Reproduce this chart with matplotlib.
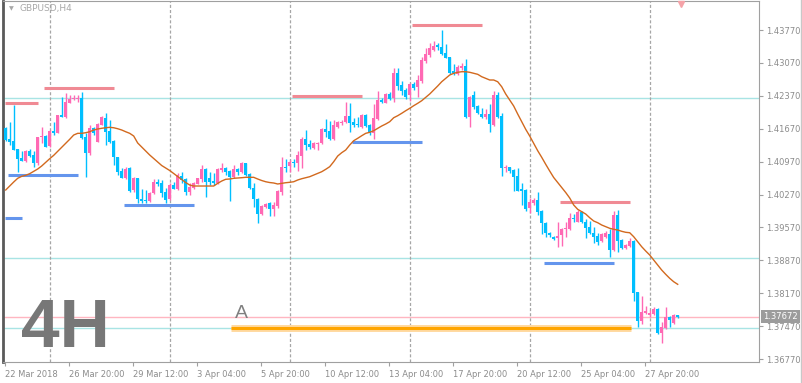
import numpy as np
import matplotlib.pyplot as plt
from matplotlib.lines import Line2D

plt.rcParams['lines.scale_dashes'] = False

# GBPUSD H4 candles, 22 Mar 2018 04:00 onwards
opens = [1.41680, 1.41446, 1.41411, 1.41240, 1.41056, 1.40992, 1.41198, 1.41113, 1.40935, 1.41489,
         1.41517, 1.41304, 1.41623, 1.41588, 1.41964, 1.41928, 1.42226, 1.42297, 1.42297, 1.42318,
         1.41489, 1.41162, 1.41680, 1.41396, 1.41751, 1.41893, 1.41623, 1.41411, 1.41077, 1.40780,
         1.40616, 1.40829, 1.40368, 1.40616, 1.40169, 1.40155, 1.40141, 1.40297, 1.40545, 1.40509,
         1.40318, 1.40169, 1.40467, 1.40396, 1.40665, 1.40594, 1.40332, 1.40403, 1.40495, 1.40594,
         1.40807, 1.40630, 1.40559, 1.40509, 1.40800, 1.40828, 1.40772, 1.40651, 1.40814, 1.40757,
         1.40935, 1.40701, 1.40403, 1.40169, 1.39857, 1.40013, 1.40084, 1.39963, 1.40035, 1.40333,
         1.40864, 1.40886, 1.40971, 1.40949, 1.41098, 1.41453, 1.41347, 1.41254, 1.41347, 1.41361,
         1.41666, 1.41623, 1.41453, 1.41715, 1.41800, 1.41807, 1.41942, 1.41807, 1.41772, 1.41701,
         1.41963, 1.41751, 1.41573, 1.41878, 1.42282, 1.42226, 1.42410, 1.42318, 1.42864, 1.42601,
         1.42495, 1.42389, 1.42616, 1.42566, 1.42687, 1.43119, 1.43240, 1.43346, 1.43452, 1.43403,
         1.43289, 1.43190, 1.42899, 1.42828, 1.42970, 1.43006, 1.41928, 1.42389, 1.42155, 1.41985,
         1.41928, 1.41978, 1.41751, 1.42389, 1.41942, 1.40829, 1.40864, 1.40793, 1.40666, 1.40382,
         1.40368, 1.39978, 1.40084, 1.40155, 1.39929, 1.39658, 1.39459, 1.39374, 1.39339, 1.39410,
         1.39530, 1.39537, 1.39779, 1.39693, 1.39899, 1.39693, 1.39573, 1.39459, 1.39389, 1.39282,
         1.39374, 1.39424, 1.39091, 1.39835, 1.39303, 1.39126, 1.39183, 1.39289, 1.38197, 1.37588,
         1.37758, 1.37708, 1.37730, 1.37836, 1.37332, 1.37439, 1.37673, 1.37545, 1.37701]
highs = [1.41715, 1.41822, 1.42176, 1.41240, 1.41205, 1.41219, 1.41233, 1.41205, 1.41503, 1.41715,
         1.41538, 1.41644, 1.41822, 1.41964, 1.42353, 1.42424, 1.42389, 1.42389, 1.42389, 1.42446,
         1.41574, 1.41751, 1.41715, 1.41786, 1.41942, 1.41999, 1.41857, 1.41432, 1.41077, 1.40829,
         1.40850, 1.40850, 1.40638, 1.40631, 1.40382, 1.40367, 1.40332, 1.40594, 1.40594, 1.40580,
         1.40403, 1.40509, 1.40545, 1.40722, 1.40757, 1.40616, 1.40509, 1.40545, 1.40630, 1.40899,
         1.40828, 1.40757, 1.40722, 1.40828, 1.40949, 1.40864, 1.40793, 1.40899, 1.40835, 1.40970,
         1.40949, 1.40722, 1.40509, 1.40190, 1.40048, 1.40084, 1.40119, 1.40119, 1.40368, 1.41077,
         1.41020, 1.41006, 1.41020, 1.41205, 1.41488, 1.41644, 1.41432, 1.41396, 1.41396, 1.41680,
         1.41871, 1.41836, 1.41857, 1.41836, 1.41857, 1.42233, 1.42211, 1.41892, 1.41928, 1.41978,
         1.41978, 1.41765, 1.42190, 1.42474, 1.42318, 1.42424, 1.42460, 1.42970, 1.42970, 1.42687,
         1.42531, 1.42651, 1.42672, 1.42814, 1.43204, 1.43381, 1.43488, 1.43544, 1.43488, 1.43771,
         1.43474, 1.43204, 1.43041, 1.43027, 1.43062, 1.43147, 1.42367, 1.42474, 1.42176, 1.42105,
         1.42084, 1.42197, 1.42474, 1.42460, 1.41999, 1.40900, 1.40864, 1.40808, 1.40843, 1.40510,
         1.40382, 1.40191, 1.40205, 1.40333, 1.39943, 1.39679, 1.39481, 1.39396, 1.39679, 1.39566,
         1.39679, 1.39885, 1.39849, 1.39942, 1.39920, 1.39743, 1.39715, 1.39587, 1.39445, 1.39445,
         1.39495, 1.39530, 1.39927, 1.39942, 1.39318, 1.39211, 1.39339, 1.39303, 1.38205, 1.38112,
         1.37900, 1.37815, 1.37871, 1.37850, 1.37552, 1.37871, 1.37694, 1.37722, 1.37701]
lows = [1.41418, 1.41325, 1.41219, 1.40758, 1.40992, 1.40971, 1.41077, 1.40865, 1.40900, 1.41361,
        1.41290, 1.41290, 1.41538, 1.41574, 1.41928, 1.41893, 1.42212, 1.42283, 1.42247, 1.41446,
        1.40652, 1.41113, 1.41538, 1.41396, 1.41751, 1.41325, 1.41361, 1.40900, 1.40687, 1.40616,
        1.40595, 1.40333, 1.40333, 1.40099, 1.40098, 1.40098, 1.40119, 1.40275, 1.40453, 1.40226,
        1.40084, 1.40155, 1.40382, 1.40367, 1.40509, 1.40261, 1.40261, 1.40382, 1.40488, 1.40545,
        1.40212, 1.40474, 1.40474, 1.40488, 1.40757, 1.40687, 1.40141, 1.40630, 1.40687, 1.40736,
        1.40672, 1.40382, 1.40013, 1.39658, 1.39836, 1.39978, 1.39814, 1.39814, 1.39992, 1.40262,
        1.40758, 1.40758, 1.40864, 1.40779, 1.40843, 1.41219, 1.41247, 1.41233, 1.41219, 1.41347,
        1.41488, 1.41432, 1.41432, 1.41694, 1.41751, 1.41786, 1.41609, 1.41715, 1.41701, 1.41680,
        1.41701, 1.41545, 1.41446, 1.41857, 1.42211, 1.42211, 1.42282, 1.42247, 1.42495, 1.42389,
        1.42297, 1.42261, 1.42495, 1.42353, 1.42637, 1.43076, 1.43204, 1.43332, 1.43346, 1.43240,
        1.43169, 1.42835, 1.42814, 1.42814, 1.42920, 1.41907, 1.41715, 1.42084, 1.41978, 1.41892,
        1.41871, 1.41609, 1.41729, 1.41892, 1.40673, 1.40758, 1.40723, 1.40354, 1.40347, 1.40049,
        1.39929, 1.39872, 1.40049, 1.39836, 1.39425, 1.39374, 1.39360, 1.39303, 1.39162, 1.39176,
        1.39374, 1.39516, 1.39693, 1.39679, 1.39658, 1.39339, 1.39424, 1.39233, 1.39197, 1.39254,
        1.39339, 1.38949, 1.39070, 1.39055, 1.39105, 1.39112, 1.39162, 1.38006, 1.37460, 1.37517,
        1.37722, 1.37673, 1.37708, 1.37304, 1.37120, 1.37403, 1.37446, 1.37517, 1.37637]
closes = [1.41432, 1.41389, 1.41219, 1.41028, 1.40992, 1.41205, 1.41091, 1.40935, 1.41489, 1.41517,
          1.41290, 1.41623, 1.41588, 1.41964, 1.41928, 1.42247, 1.42304, 1.42318, 1.42318, 1.41467,
          1.41162, 1.41680, 1.41574, 1.41765, 1.41914, 1.41609, 1.41396, 1.41063, 1.40758, 1.40631,
          1.40808, 1.40354, 1.40616, 1.40170, 1.40141, 1.40141, 1.40297, 1.40531, 1.40495, 1.40311,
          1.40155, 1.40467, 1.40396, 1.40687, 1.40580, 1.40332, 1.40438, 1.40523, 1.40616, 1.40814,
          1.40545, 1.40545, 1.40524, 1.40814, 1.40828, 1.40757, 1.40651, 1.40807, 1.40757, 1.40935,
          1.40687, 1.40403, 1.40169, 1.39857, 1.40027, 1.40063, 1.39963, 1.40048, 1.40347, 1.40864,
          1.40843, 1.40971, 1.40949, 1.41113, 1.41453, 1.41325, 1.41276, 1.41361, 1.41361, 1.41666,
          1.41609, 1.41446, 1.41751, 1.41822, 1.41822, 1.41942, 1.41800, 1.41751, 1.41744, 1.41963,
          1.41729, 1.41573, 1.41892, 1.42282, 1.42233, 1.42410, 1.42311, 1.42864, 1.42587, 1.42481,
          1.42353, 1.42616, 1.42545, 1.42708, 1.43133, 1.43261, 1.43381, 1.43438, 1.43417, 1.43261,
          1.43183, 1.42864, 1.42864, 1.42991, 1.43006, 1.41928, 1.42339, 1.42126, 1.41999, 1.41914,
          1.41978, 1.41772, 1.42389, 1.41928, 1.40829, 1.40864, 1.40779, 1.40652, 1.40354, 1.40347,
          1.39957, 1.40120, 1.40155, 1.39907, 1.39659, 1.39445, 1.39410, 1.39325, 1.39389, 1.39537,
          1.39566, 1.39779, 1.39757, 1.39892, 1.39679, 1.39552, 1.39445, 1.39374, 1.39268, 1.39424,
          1.39445, 1.39091, 1.39835, 1.39282, 1.39126, 1.39197, 1.39289, 1.38183, 1.37588, 1.37772,
          1.37800, 1.37758, 1.37836, 1.37332, 1.37460, 1.37673, 1.37602, 1.37701, 1.37672]
ma = [1.40367, 1.40452, 1.40537, 1.40616, 1.40658, 1.40680, 1.40714, 1.40765, 1.40814, 1.40878,
      1.40956, 1.41033, 1.41105, 1.41190, 1.41275, 1.41361, 1.41446, 1.41537, 1.41573, 1.41573,
      1.41586, 1.41607, 1.41644, 1.41665, 1.41680, 1.41692, 1.41701, 1.41692, 1.41671, 1.41644,
      1.41607, 1.41573, 1.41516, 1.41367, 1.41282, 1.41197, 1.41112, 1.41037, 1.40963, 1.40888,
      1.40835, 1.40782, 1.40718, 1.40654, 1.40590, 1.40526, 1.40473, 1.40452, 1.40452, 1.40452,
      1.40452, 1.40452, 1.40452, 1.40509, 1.40558, 1.40595, 1.40601, 1.40616, 1.40622, 1.40629,
      1.40637, 1.40637, 1.40637, 1.40601, 1.40569, 1.40543, 1.40526, 1.40516, 1.40495, 1.40509,
      1.40522, 1.40531, 1.40543, 1.40580, 1.40607, 1.40629, 1.40650, 1.40686, 1.40722, 1.40756,
      1.40807, 1.40863, 1.40969, 1.41090, 1.41161, 1.41218, 1.41324, 1.41416, 1.41467, 1.41522,
      1.41573, 1.41595, 1.41629, 1.41680, 1.41729, 1.41771, 1.41820, 1.41905, 1.41948, 1.41999,
      1.42054, 1.42105, 1.42161, 1.42212, 1.42267, 1.42339, 1.42410, 1.42495, 1.42580, 1.42671,
      1.42744, 1.42814, 1.42850, 1.42872, 1.42884, 1.42884, 1.42872, 1.42850, 1.42829, 1.42778,
      1.42744, 1.42708, 1.42708, 1.42671, 1.42565, 1.42410, 1.42282, 1.42154, 1.41984, 1.41820,
      1.41659, 1.41516, 1.41361, 1.41203, 1.41063, 1.40914, 1.40771, 1.40633, 1.40526, 1.40420,
      1.40314, 1.40197, 1.40048, 1.39956, 1.39905, 1.39856, 1.39777, 1.39707, 1.39671, 1.39622,
      1.39586, 1.39552, 1.39531, 1.39516, 1.39488, 1.39467, 1.39458, 1.39373, 1.39267, 1.39160,
      1.39069, 1.38984, 1.38877, 1.38771, 1.38664, 1.38573, 1.38488, 1.38415, 1.38360]

price_ticks = [1.36770, 1.37470, 1.38170, 1.38870, 1.39570, 1.40270, 1.40970, 1.41670, 1.42370, 1.43070, 1.43770]
time_labels = ['22 Mar 2018', '26 Mar 20:00', '29 Mar 12:00', '3 Apr 04:00', '5 Apr 20:00', '10 Apr 12:00',
               '13 Apr 04:00', '17 Apr 20:00', '20 Apr 12:00', '25 Apr 04:00', '27 Apr 20:00']
week_starts = [11, 41, 71, 101, 131, 161]
levels = [1.42318, 1.38913, 1.37424]
resist = [(-0.2, 8.1, 1.42218), (9.6, 27.1, 1.42544), (71.6, 89.1, 1.42367),
          (101.6, 119.1, 1.43878), (138.6, 156.1, 1.40112)]
support = [(-0.2, 4.1, 1.39777), (0.6, 18.1, 1.40686), (29.6, 47.1, 1.40048),
           (86.6, 104.1, 1.41388), (134.6, 152.1, 1.38820)]
line_a = (56.3, 156.3, 1.37420)

bull = '#ff69b4'
bear = '#00bfff'
grey = '#a0a0a0'

fig = plt.figure(figsize=(8.03, 3.83), dpi=100)
ax = fig.add_axes([3 / 803, 1 - 362 / 383, 756 / 803, 361 / 383])
ax.set_xlim(-0.675, 188.325)
ax.set_ylim(1.36707, 1.44389)

for lv in levels:
    ax.axhline(lv, color='#a8e4e4', lw=1, zorder=1)
ax.axhline(closes[-1], color='#ffb6c1', lw=1, zorder=1)
for w in week_starts:
    ax.axvline(w, color='#a6a6a6', lw=0.9, dashes=(2.2, 1.5), zorder=1)

for x0, x1, p in resist:
    ax.hlines(p, x0, x1, color='#f08a94', lw=2.2, zorder=2)
for x0, x1, p in support:
    ax.hlines(p, x0, x1, color='#6495ed', lw=2.2, zorder=2)
ax.hlines(line_a[2], line_a[0], line_a[1], color='#ffd9a0', lw=5, zorder=2)
ax.hlines(line_a[2], line_a[0], line_a[1], color='#ffa500', lw=2.2, zorder=3)

o = np.array(opens)
c = np.array(closes)
h = np.array(highs)
l = np.array(lows)
idx = np.arange(len(o))
cols = np.where(c >= o, bull, bear)
ax.vlines(idx, l, h, colors=cols, lw=1, zorder=4)
ax.bar(idx, np.maximum(np.abs(c - o), 0.00022), bottom=np.minimum(o, c),
       width=0.75, color=cols, linewidth=0, zorder=5)

ax.plot(idx, ma, color='#d2691e', lw=1, zorder=6)

# axes look
for s in ['top', 'right', 'bottom']:
    ax.spines[s].set_color(grey)
    ax.spines[s].set_linewidth(0.8)
ax.spines['left'].set_color('#5a5a5a')
ax.spines['left'].set_linewidth(2)

ax.yaxis.tick_right()
ax.set_yticks(price_ticks)
ax.set_yticklabels(['%.5f' % p for p in price_ticks])
ax.set_xticks([16 * k - 0.2 for k in range(len(time_labels))])
ax.set_xticklabels(time_labels, ha='left')
ax.tick_params(axis='both', length=3, width=0.8, color=grey, labelcolor='#8c8c8c',
               labelsize=6, pad=2)
ax.tick_params(axis='x', pad=3)

ax.annotate('%.5f' % closes[-1], xy=(1, closes[-1]), xycoords=('axes fraction', 'data'),
            xytext=(3, 0), textcoords='offset points', va='center', ha='left',
            fontsize=6, color='white',
            bbox=dict(boxstyle='square,pad=0.25', fc='#9c9c9c', ec='none'))

ax.plot([168.8], [1.44330], marker='v', color='#f5a3a8', ms=5, clip_on=False, zorder=7)

fig.text(20 / 803, 1 - 9 / 383, 'GBPUSD,H4', fontsize=6.5, color='#a8a8a8', va='center')
fig.text(9 / 803, 1 - 9 / 383, '\u25bc', fontsize=4.5, color='#a8a8a8', va='center')
fig.text(21 / 803, 1 - 347 / 383, '4H', fontsize=50, family='Liberation Sans',
         fontweight='bold', color='#777777', va='baseline')
fig.text(235 / 803, 1 - 318 / 383, 'A', fontsize=14, family='Liberation Sans',
         color='#808080', va='baseline')
fig.add_artist(Line2D([801 / 803, 801 / 803], [0, 1], color='#c8c8c8', lw=1))

fig.savefig('out.png', dpi=100)
